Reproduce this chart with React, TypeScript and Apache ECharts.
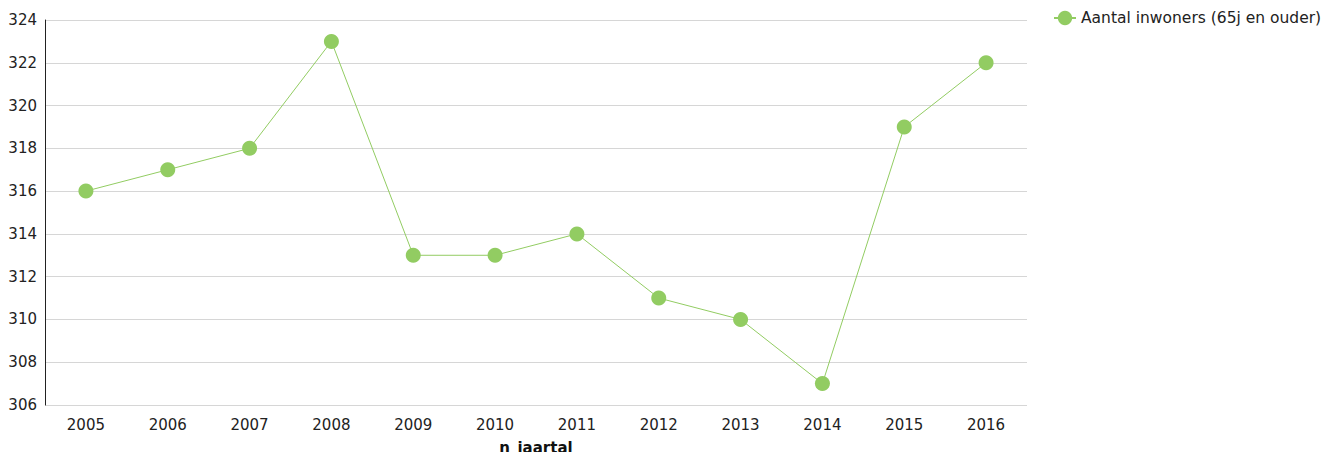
import React, { useEffect, useRef } from "react";
import * as echarts from "echarts";

const categories = ["2005", "2006", "2007", "2008", "2009", "2010", "2011", "2012", "2013", "2014", "2015", "2016"];
const values = [316, 317, 318, 323, 313, 313, 314, 311, 310, 307, 319, 322];
const seriesName = "Aantal inwoners (65j en ouder)";
const xAxisName = "n_jaartal";

const FONT = "Tahoma, 'DejaVu Sans', Verdana, sans-serif";
const GREEN = "#92cc62";

export default function App() {
  const ref = useRef<HTMLDivElement>(null);
  useEffect(() => {
    if (!ref.current) return;
    const chart = echarts.init(ref.current, undefined, { renderer: "svg" });
    chart.setOption({
      animation: false,
      textStyle: { fontFamily: FONT },
      grid: {
        left: 37,
        right: 301,
        top: 12,
        bottom: 55,
        containLabel: false,
        outerBoundsMode: "none",
      },
      legend: {
        left: 1040,
        top: -3,
        itemWidth: 22,
        itemHeight: 18,
        itemGap: 10,
        textStyle: { fontFamily: FONT, fontSize: 15.5, color: "#222" },
        data: [seriesName],
      },
      xAxis: {
        type: "category",
        data: categories,
        boundaryGap: true,
        name: xAxisName,
        nameLocation: "middle",
        nameGap: 35,
        nameTextStyle: { fontFamily: FONT, fontSize: 15, fontWeight: "bold", color: "#111" },
        axisLine: { show: false },
        axisTick: { show: false },
        axisLabel: { fontFamily: FONT, fontSize: 15, color: "#222", margin: 12 },
      },
      yAxis: {
        type: "value",
        min: 306,
        max: 324,
        interval: 2,
        axisLine: { show: true, lineStyle: { color: "#222", width: 1 } },
        axisTick: { show: false },
        axisLabel: { fontFamily: FONT, fontSize: 15, color: "#222", margin: 8 },
        splitLine: { show: true, lineStyle: { color: "#d6d6d6", width: 1 } },
      },
      series: [
        {
          name: seriesName,
          type: "line",
          data: values,
          symbol: "circle",
          symbolSize: 15,
          itemStyle: { color: GREEN },
          lineStyle: { color: GREEN, width: 1 },
        },
      ],
    });
    return () => chart.dispose();
  }, []);
  return <div ref={ref} style={{ width: 1320, height: 452, marginBottom: -8 }} />;
}
